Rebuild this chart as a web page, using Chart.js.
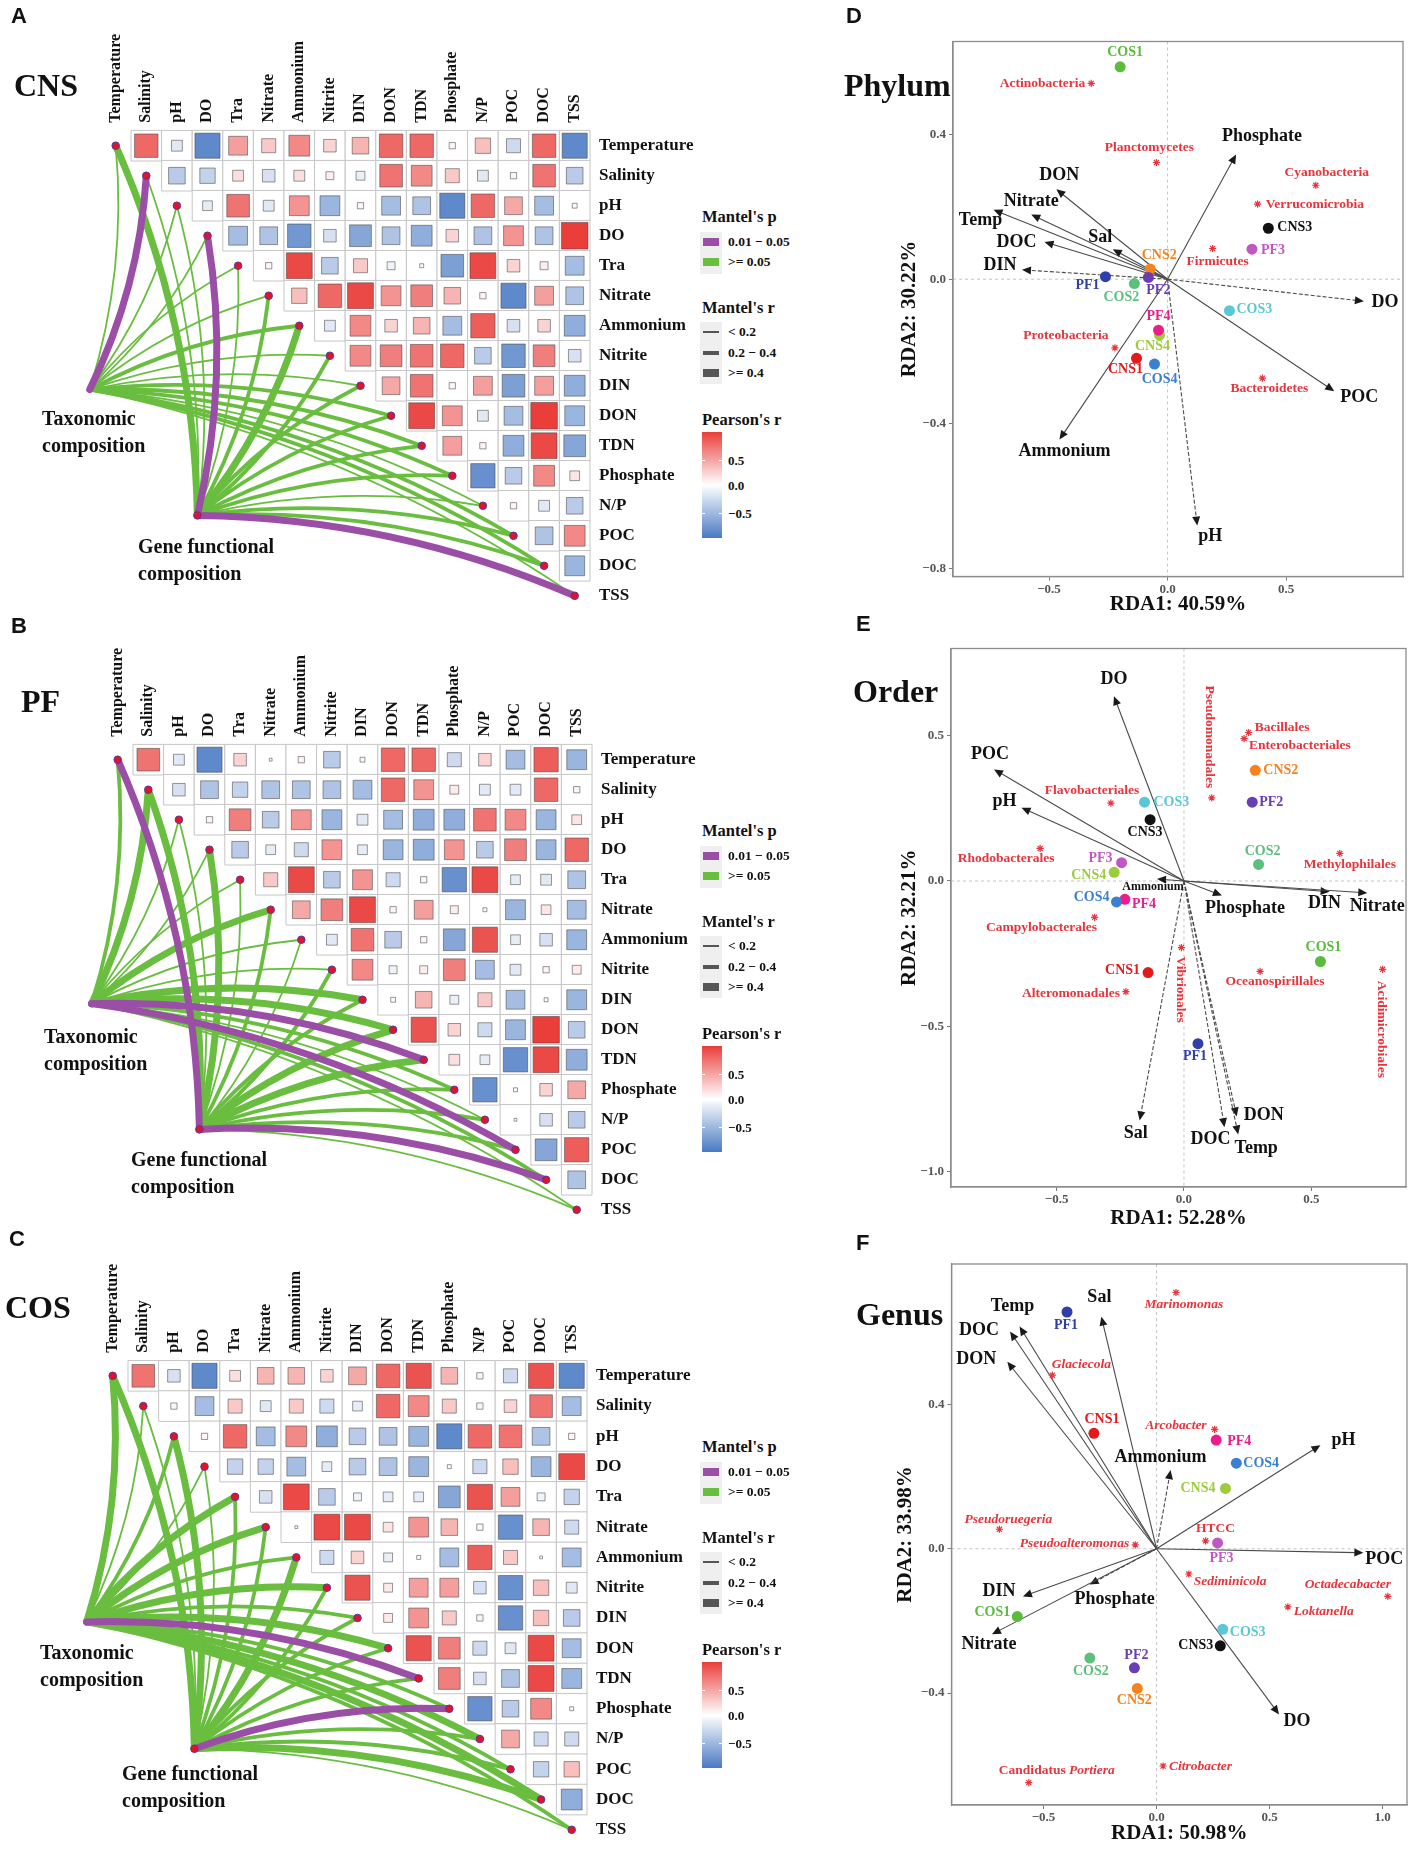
<!DOCTYPE html>
<html>
<head>
<meta charset="utf-8">
<title>Mantel tests and RDA</title>
<script src="https://cdn.jsdelivr.net/npm/chart.js@4.4.1/dist/chart.umd.min.js"></script>
<style>
  body { margin: 0; background: #fff; }
  #page { position: relative; width: 1417px; height: 1849px; overflow: hidden; background: #fff; }
  canvas { position: absolute; }
  .t { position: absolute; white-space: nowrap; font-family: "Liberation Serif", "Times New Roman", serif;
       font-weight: bold; color: #111; line-height: 1; transform: translateY(-50%); }
  .b { position: absolute; }
</style>
</head>
<body>
<div id="page">
  <canvas id="hA" width="700" height="615" style="left:0;top:0"></canvas>
  <canvas id="hB" width="700" height="615" style="left:2px;top:614px"></canvas>
  <canvas id="hC" width="700" height="619" style="left:-3px;top:1230px"></canvas>
  <canvas id="rD" width="577" height="625" style="left:840px;top:0"></canvas>
  <canvas id="rE" width="577" height="620" style="left:840px;top:620px"></canvas>
  <canvas id="rF" width="577" height="612" style="left:840px;top:1240px"></canvas>
</div>
<script>
// ---------- data: environmental variables & Pearson's r (upper triangle, row by row) ----------
const vars = ["Temperature","Salinity","pH","DO","Tra","Nitrate","Ammonium","Nitrite","DIN","DON","TDN","Phosphate","N/P","POC","DOC","TSS"];

const corrCNS = [
  [0.7,-0.15,-0.8,0.45,0.25,0.55,0.2,0.35,0.7,0.7,0.05,0.3,-0.25,0.7,-0.8],
  [-0.35,-0.3,0.15,-0.2,0.15,0.08,-0.1,0.65,0.55,0.25,-0.15,0.05,0.65,-0.35],
  [-0.12,0.65,-0.15,0.5,-0.5,0.05,-0.45,-0.4,-0.8,0.7,0.4,-0.45,0.03],
  [-0.45,-0.4,-0.7,-0.2,-0.6,-0.4,-0.55,0.2,-0.4,0.5,-0.4,0.9],
  [0.05,0.85,-0.35,0.25,-0.08,0.02,-0.65,0.85,0.2,0.08,-0.45],
  [0.3,0.7,0.85,0.5,0.6,0.35,0.05,-0.8,0.45,-0.4],
  [-0.15,0.55,0.2,0.35,-0.45,0.75,-0.2,0.2,-0.55],
  [0.55,0.6,0.65,0.7,-0.35,-0.7,0.6,-0.2],
  [0.4,0.65,0.05,0.45,-0.65,0.45,-0.55],
  [0.85,0.5,-0.15,-0.45,0.9,-0.5],
  [0.45,0.05,-0.55,0.85,-0.6],
  [-0.75,-0.35,0.55,0.12],
  [0.05,-0.15,-0.35],
  [-0.4,0.55],
  [-0.5]
];
const corrPF = [
  [0.65,-0.15,-0.8,0.2,0.01,0.05,-0.35,0.03,0.7,0.7,-0.25,0.2,-0.45,0.75,-0.5],
  [-0.2,-0.4,-0.3,-0.4,-0.4,-0.4,-0.45,0.7,0.5,0.1,-0.15,-0.15,0.7,-0.05],
  [0.05,0.6,-0.35,0.5,-0.5,-0.15,-0.45,-0.55,-0.55,0.65,0.55,-0.5,0.12],
  [-0.35,-0.12,-0.25,0.5,-0.12,-0.5,-0.55,0.5,-0.35,0.6,-0.5,0.7],
  [0.25,0.85,-0.35,0.5,-0.25,0.05,-0.75,0.85,-0.12,-0.15,-0.4],
  [0.4,0.6,0.85,0.05,0.45,0.08,0.02,-0.5,0.12,-0.45],
  [-0.15,0.65,-0.35,0.05,-0.6,0.8,-0.12,-0.2,-0.5],
  [0.55,-0.08,0.08,0.6,-0.45,-0.15,0.05,0.1],
  [0.03,0.35,-0.1,0.25,-0.45,0.02,-0.5],
  [0.8,0.2,-0.25,-0.5,0.9,-0.35],
  [0.15,-0.12,-0.75,0.85,-0.55],
  [-0.75,0.02,0.2,0.4],
  [0.01,-0.2,-0.35],
  [-0.6,0.75],
  [-0.4]
];
const corrCOS = [
  [0.65,-0.2,-0.8,0.15,0.35,0.35,0.2,0.4,0.7,0.8,0.35,0.05,-0.25,0.8,-0.8],
  [0.05,-0.45,0.25,-0.15,0.25,-0.25,-0.12,0.7,0.55,0.25,0.05,0.2,0.65,-0.45],
  [0.05,0.7,-0.45,0.55,-0.55,-0.35,-0.4,-0.5,-0.8,0.7,0.65,-0.4,0.05],
  [-0.3,-0.3,-0.45,-0.12,-0.35,-0.4,-0.5,-0.02,-0.25,0.3,-0.5,0.85],
  [-0.2,0.85,-0.35,-0.08,-0.12,-0.12,-0.6,0.8,0.45,-0.08,-0.3],
  [0.01,0.85,0.85,0.12,0.5,0.35,-0.05,-0.75,0.35,-0.25],
  [-0.25,0.2,-0.1,0.02,-0.45,0.75,0.25,0.01,-0.45],
  [0.8,0.1,0.45,0.45,-0.2,-0.75,0.3,-0.15],
  [0.1,0.5,0.25,0.05,-0.75,0.3,-0.35],
  [0.8,0.6,-0.25,-0.15,0.85,-0.45],
  [0.6,-0.2,-0.4,0.85,-0.5],
  [-0.75,-0.35,0.55,0.02],
  [0.4,-0.25,-0.25],
  [-0.3,0.3],
  [-0.55]
];

// Mantel tests: p flag (1 = 0.01-0.05, 0 = >=0.05), r class (0 <0.2, 1 0.2-0.4, 2 >=0.4)
const taxPCNS  = [0,1,0,0,0,0,0,0,0,0,0,0,0,0,0,0];
const taxRCNS  = [0,2,0,0,0,0,1,0,0,1,1,1,0,1,1,0];
const genePCNS = [0,0,0,1,0,0,0,0,0,0,0,0,0,0,0,1];
const geneRCNS = [2,0,0,2,0,1,2,1,1,1,1,1,0,1,1,2];

const taxPPF  = [0,0,0,0,0,0,0,0,0,0,1,0,0,1,0,0];
const taxRPF  = [1,2,0,0,0,2,0,0,2,2,2,1,0,2,1,0];
const genePPF = [1,0,0,0,0,0,0,0,0,0,0,0,0,0,1,0];
const geneRPF = [2,2,0,2,0,1,0,1,1,2,2,1,1,1,2,0];

const taxPCOS  = [0,0,0,0,0,0,0,0,0,0,1,0,0,0,0,0];
const taxRCOS  = [2,0,1,0,2,2,1,2,1,2,2,1,2,1,2,1];
const genePCOS = [0,0,0,0,0,0,0,0,0,0,0,1,0,0,0,0];
const geneRCOS = [2,0,2,0,1,1,2,1,1,1,1,2,1,1,2,0];

// ---------- data: RDA ----------
const sites = ["CNS1","CNS2","CNS3","CNS4","PF1","PF2","PF3","PF4","COS1","COS2","COS3","COS4"];

const phylumSiteX = [-0.131,-0.073,0.425,-0.034,-0.262,-0.081,0.356,-0.038,-0.200,-0.140,0.261,-0.055];
const phylumSiteY = [-0.219,0.028,0.141,-0.155,0.007,0.005,0.083,-0.141,0.588,-0.012,-0.087,-0.235];
const phylumTaxa  = ["Actinobacteria","Planctomycetes","Cyanobacteria","Verrucomicrobia","Firmicutes","Proteobacteria","Bacteroidetes"];
const phylumTaxaX = [-0.322,-0.047,0.625,0.380,0.190,-0.222,0.400];
const phylumTaxaY = [0.542,0.323,0.260,0.208,0.085,-0.190,-0.274];
const phylumEnv   = ["Phosphate","DON","Nitrate","Temp","DOC","Sal","DIN","DO","POC","Ammonium","pH"];
const phylumEnvX  = [0.289,-0.469,-0.575,-0.734,-0.519,-0.231,-0.614,0.828,0.703,-0.456,0.125];
const phylumEnvY  = [0.345,0.249,0.179,0.192,0.103,0.083,0.026,-0.061,-0.310,-0.444,-0.682];

const orderSiteX = [-0.141,0.280,-0.133,-0.274,0.055,0.268,-0.245,-0.232,0.536,0.293,-0.155,-0.265];
const orderSiteY = [-0.315,0.381,0.211,0.030,-0.560,0.271,0.063,-0.063,-0.277,0.057,0.271,-0.072];
const orderTaxa  = ["Pseudomonadales","Bacillales","Enterobacteriales","Flavobacteriales","Rhodobacterales","Methylophilales","Campylobacterales","Vibrionales","Oceanospirillales","Alteromonadales","Acidimicrobiales"];
const orderTaxaX = [0.109,0.254,0.236,-0.287,-0.565,0.612,-0.351,-0.010,0.299,-0.228,0.780];
const orderTaxaY = [0.286,0.511,0.490,0.268,0.112,0.095,-0.125,-0.229,-0.311,-0.381,-0.304];
const orderEnv   = ["DO","POC","pH","Ammonium","Phosphate","DIN","Nitrate","Sal","DOC","DON","Temp"];
const orderEnvX  = [-0.275,-0.746,-0.638,-0.106,0.149,0.572,0.720,-0.174,0.159,0.207,0.213];
const orderEnvY  = [0.636,0.384,0.252,0.007,-0.050,-0.037,-0.041,-0.824,-0.847,-0.810,-0.872];

const genusSiteX = [-0.277,-0.085,0.282,0.305,-0.396,-0.098,0.270,0.264,-0.616,-0.295,0.293,0.353];
const genusSiteY = [0.320,-0.387,-0.269,0.167,0.656,-0.330,0.016,0.301,-0.188,-0.303,-0.223,0.237];
const genusTaxa  = ["Marinomonas","Glaciecola","Arcobacter","Pseudoruegeria","Pseudoalteromonas","HTCC","Sediminicola","Octadecabacter","Loktanella","Candidatus Portiera","Citrobacter"];
const genusTaxaX = [0.086,-0.461,0.257,-0.695,-0.094,0.217,0.143,1.023,0.581,-0.565,0.029];
const genusTaxaY = [0.710,0.481,0.331,0.054,0.011,0.022,-0.070,-0.132,-0.161,-0.648,-0.602];
const genusEnv   = ["Temp","DOC","DON","Sal","Ammonium","pH","POC","DIN","Phosphate","Nitrate","DO"];
const genusEnvX  = [-0.606,-0.648,-0.660,-0.244,0.062,0.725,0.915,-0.591,-0.296,-0.728,0.542];
const genusEnvY  = [0.616,0.602,0.518,0.643,0.218,0.287,-0.011,-0.132,-0.099,-0.237,-0.459];

const xTicksPhylum = [-0.5,0,0.5],   yTicksPhylum = [-0.8,-0.4,0,0.4];
const xTicksOrder  = [-0.5,0,0.5],   yTicksOrder  = [-1,-0.5,0,0.5];
const xTicksGenus  = [-0.5,0,0.5,1], yTicksGenus  = [-0.4,0,0.4];

// ---------- styles ----------
const SERIF = '"Liberation Serif", "Times New Roman", serif';
const PURPLE = '#9a4ea6', GREEN = '#69bd3f', RED = '#e8343c';
const LINK_W = [1.8, 3.8, 7];
const HUBS = { tax: [-0.85, 8.13], gene: [2.67, 12.32] };
const siteColors = ['#e31a1c','#f5821f','#111111','#9ccc3c','#2f3fa8','#6a3db3','#c058c4','#ec1c8c','#5abb3c','#5cbf7c','#5bc6d8','#3b7fd1'];

function rCol(v) {
  const t = Math.min(1, Math.abs(v) / 0.9);
  const end = v >= 0 ? [233, 62, 58] : [74, 122, 196];
  const c = end.map(e => Math.round(255 + (e - 255) * t));
  return 'rgb(' + c.join(',') + ')';
}
const fmt = v => (v < 0 ? '\u2212' : '') + Math.abs(v).toFixed(1);

// ---------- correlation heatmap + Mantel links ----------
// links are painted after the cells/squares but before the node dots (dataset 0)
function linkPlugin(m) {
  return {
    id: 'links',
    beforeDatasetDraw(chart, args) {
      if (args.index !== 0) return;
      const { ctx, scales: { x, y } } = chart;
      ctx.save();
      ctx.lineCap = 'round';
      [false, true].forEach(sig => {
        [[HUBS.tax, m.taxP, m.taxR], [HUBS.gene, m.geneP, m.geneR]].forEach(([hub, P, R]) => {
          vars.forEach((_, i) => {
            if ((P[i] === 1) !== sig) return;
            const x1 = x.getPixelForValue(hub[0]), y1 = y.getPixelForValue(hub[1]);
            const x2 = x.getPixelForValue(i), y2 = y.getPixelForValue(i);
            const dx = x2 - x1, dy = y2 - y1;
            // bend every curve towards the heatmap (upper right)
            let nx = -dy, ny = dx;
            if (nx - ny < 0) { nx = -nx; ny = -ny; }
            const cx = (x1 + x2) / 2 + nx * 0.1, cy = (y1 + y2) / 2 + ny * 0.1;
            ctx.beginPath();
            ctx.moveTo(x1, y1);
            ctx.quadraticCurveTo(cx, cy, x2, y2);
            ctx.strokeStyle = sig ? PURPLE : GREEN;
            ctx.lineWidth = LINK_W[R[i]];
            ctx.stroke();
          });
        });
      });
      ctx.restore();
    }
  };
}

function heatmap(id, corr, m) {
  const cvs = document.getElementById(id);
  const cells = [], squares = [];
  corr.forEach((row, i) => row.forEach((v, k) => {
    cells.push({ x: i + 1 + k, y: i });
    squares.push({ x: i + 1 + k, y: i, v: v });
  }));
  const nodes = vars.map((_, i) => ({ x: i, y: i }))
    .concat([{ x: HUBS.tax[0], y: HUBS.tax[1] }, { x: HUBS.gene[0], y: HUBS.gene[1] }]);
  const cellPx = c => c.scales.x.getPixelForValue(1) - c.scales.x.getPixelForValue(0);
  const valOf = c => (c.raw && typeof c.raw.v === 'number') ? c.raw.v : 0;
  const tickFont = s => ({ family: SERIF, weight: 'bold', size: s });

  // first dataset is painted last (on top)
  new Chart(cvs, {
    type: 'scatter',
    data: { datasets: [
      { data: nodes, pointStyle: 'circle', clip: false, pointRadius: 3.8,
        pointBackgroundColor: '#e3122b', pointBorderColor: '#5a3a9a', pointBorderWidth: 1 },
      { data: squares, pointStyle: 'rect', clip: false,
        pointRadius: c => (cellPx(c.chart) - 4) * Math.sqrt(Math.min(1, Math.abs(valOf(c)) / 0.9)) / Math.SQRT2,
        pointBackgroundColor: c => rCol(valOf(c)), pointBorderColor: 'rgba(70,70,70,0.55)', pointBorderWidth: 1 },
      { data: cells, pointStyle: 'rect', clip: false,
        pointRadius: c => cellPx(c.chart) / Math.SQRT2,
        pointBackgroundColor: '#ffffff', pointBorderColor: '#c6c6c6', pointBorderWidth: 1 }
    ]},
    plugins: [linkPlugin(m)],
    options: {
      responsive: false, animation: false, events: [],
      layout: { padding: { left: 100.4, top: 0, right: 0, bottom: cvs.height - 605 } },
      plugins: { legend: { display: false }, tooltip: { enabled: false } },
      scales: {
        x: { type: 'linear', position: 'top', min: -0.5, max: 15.5,
             afterBuildTicks: s => { s.ticks = vars.map((_, i) => ({ value: i })); },
             afterFit: s => { s.height = 130.7; },
             ticks: { callback: v => vars[v], autoSkip: false, minRotation: 90, maxRotation: 90,
                      padding: 8, labelOffset: 19, font: tickFont(16), color: '#111' },
             grid: { display: false, drawTicks: false }, border: { display: false } },
        y: { type: 'linear', position: 'right', reverse: true, min: -0.5, max: 15,
             afterBuildTicks: s => { s.ticks = vars.map((_, i) => ({ value: i })); },
             afterFit: s => { s.width = 110; },
             ticks: { callback: v => vars[v], autoSkip: false, padding: 9, font: tickFont(17), color: '#111' },
             grid: { display: false, drawTicks: false }, border: { display: false } }
      }
    }
  });
}

heatmap('hA', corrCNS, { taxP: taxPCNS, taxR: taxRCNS, geneP: genePCNS, geneR: geneRCNS });
heatmap('hB', corrPF,  { taxP: taxPPF,  taxR: taxRPF,  geneP: genePPF,  geneR: geneRPF });
heatmap('hC', corrCOS, { taxP: taxPCOS, taxR: taxRCOS, geneP: genePCOS, geneR: geneRCOS });

// ---------- RDA biplots ----------
function drawText(ctx, s, x, y, font, color, align, rot) {
  ctx.save();
  ctx.font = font; ctx.fillStyle = color; ctx.textBaseline = 'middle';
  ctx.textAlign = align === 'l' ? 'left' : align === 'r' ? 'right' : 'center';
  ctx.translate(x, y);
  if (rot) ctx.rotate(rot * Math.PI / 180);
  ctx.fillText(s, 0, 0);
  ctx.restore();
}

function rdaPlugin(d) {
  return {
    id: 'rda',
    beforeDatasetsDraw(chart) {
      const { ctx, chartArea: a, scales: { x, y } } = chart;
      const x0 = x.getPixelForValue(0), y0 = y.getPixelForValue(0);
      ctx.save();
      ctx.strokeStyle = '#c4c4c4'; ctx.lineWidth = 1; ctx.setLineDash([3, 3]);
      ctx.beginPath();
      ctx.moveTo(x0, a.top); ctx.lineTo(x0, a.bottom);
      ctx.moveTo(a.left, y0); ctx.lineTo(a.right, y0);
      ctx.stroke();
      ctx.restore();
      d.env.forEach((name, i) => {
        const tx = x.getPixelForValue(d.envX[i]), ty = y.getPixelForValue(d.envY[i]);
        const ang = Math.atan2(ty - y0, tx - x0), hl = 9, hw = 4;
        const c = Math.cos(ang), s = Math.sin(ang);
        ctx.save();
        ctx.strokeStyle = '#4a4a4a'; ctx.fillStyle = '#1a1a1a'; ctx.lineWidth = 1.1;
        if (d.dashed.includes(name)) ctx.setLineDash([4, 2]);
        ctx.beginPath(); ctx.moveTo(x0, y0); ctx.lineTo(tx - hl * 0.7 * c, ty - hl * 0.7 * s); ctx.stroke();
        ctx.setLineDash([]);
        ctx.beginPath();
        ctx.moveTo(tx, ty);
        ctx.lineTo(tx - hl * c + hw * s, ty - hl * s - hw * c);
        ctx.lineTo(tx - hl * c - hw * s, ty - hl * s + hw * c);
        ctx.closePath(); ctx.fill();
        ctx.restore();
      });
    },
    afterDatasetsDraw(chart) {
      const { ctx, scales: { x, y } } = chart;
      d.env.forEach((name, i) => {
        const o = d.envLab[i];
        const small = d.smallEnv && d.smallEnv.includes(name);
        drawText(ctx, name, x.getPixelForValue(d.envX[i]) + o[0], y.getPixelForValue(d.envY[i]) + o[1],
          'bold ' + (small ? 12 : 18) + 'px ' + SERIF, '#111', 'c');
      });
      d.taxa.forEach((name, i) => {
        const o = d.taxaLab[i];
        const px = x.getPixelForValue(d.taxaX[i]) + o[0], py = y.getPixelForValue(d.taxaY[i]) + o[1];
        const up = 'bold 13.5px ' + SERIF, it = 'italic bold 13.5px ' + SERIF;
        if (d.italic && name.startsWith('Candidatus ')) {
          ctx.save();
          ctx.font = up; const w1 = ctx.measureText('Candidatus ').width;
          ctx.font = it; const w2 = ctx.measureText('Portiera').width;
          ctx.restore();
          const left = px - (w1 + w2) / 2;
          drawText(ctx, 'Candidatus ', left, py, up, RED, 'l');
          drawText(ctx, 'Portiera', left + w1, py, it, RED, 'l');
        } else {
          const font = d.italic && !d.upright.includes(name) ? it : up;
          drawText(ctx, name, px, py, font, RED, o[2], o[3]);
        }
      });
      sites.forEach((name, i) => {
        const o = d.siteLab[i];
        drawText(ctx, name, x.getPixelForValue(d.sx[i]) + o[0], y.getPixelForValue(d.sy[i]) + o[1],
          'bold 14px ' + SERIF, siteColors[i], o[2]);
      });
    },
    afterDraw(chart) {
      const { ctx, chartArea: a } = chart;
      ctx.save();
      ctx.strokeStyle = '#8c8c8c'; ctx.lineWidth = 1.3;
      ctx.strokeRect(a.left, a.top, a.right - a.left, a.bottom - a.top);
      ctx.restore();
    }
  };
}

function rdaAxis(min, max, ticks, title, isX, size) {
  return {
    type: 'linear', min: min, max: max,
    afterBuildTicks: s => { s.ticks = ticks.map(v => ({ value: v })); },
    afterFit: s => { if (isX) s.height = size; else s.width = size; },
    ticks: { callback: fmt, font: { family: SERIF, weight: 'bold', size: 13 }, color: '#555', padding: isX ? 1 : 3 },
    grid: { display: true, drawOnChartArea: false, drawTicks: true, tickLength: 4, color: '#777' },
    border: { display: true, color: '#8c8c8c', width: 1.3 },
    title: { display: true, text: title, color: '#111', padding: { top: 4, bottom: 4 },
             font: { family: SERIF, weight: 'bold', size: 21 } }
  };
}

function rda(id, d) {
  new Chart(document.getElementById(id), {
    type: 'scatter',
    data: { datasets: [
      { data: d.sx.map((v, i) => ({ x: v, y: d.sy[i] })), pointStyle: 'circle', pointRadius: 5.5,
        pointBackgroundColor: siteColors, pointBorderWidth: 0, clip: false },
      { data: d.taxaX.map((v, i) => ({ x: v, y: d.taxaY[i] })), pointStyle: 'star', pointRadius: 3.6,
        pointBorderColor: RED, pointBorderWidth: 1.2, clip: false }
    ]},
    plugins: [rdaPlugin(d)],
    options: {
      responsive: false, animation: false, events: [],
      layout: { padding: d.pad },
      plugins: { legend: { display: false }, tooltip: { enabled: false } },
      scales: {
        x: rdaAxis(d.xr[0], d.xr[1], d.xt, d.xTitle, true, d.xh),
        y: rdaAxis(d.yr[0], d.yr[1], d.yt, d.yTitle, false, d.yw)
      }
    }
  });
}

rda('rD', {
  sx: phylumSiteX, sy: phylumSiteY, taxa: phylumTaxa, taxaX: phylumTaxaX, taxaY: phylumTaxaY,
  env: phylumEnv, envX: phylumEnvX, envY: phylumEnvY,
  xr: [-0.905, 0.993], yr: [-0.823, 0.658], xt: xTicksPhylum, yt: yTicksPhylum,
  xTitle: 'RDA1: 40.59%', yTitle: 'RDA2: 30.22%',
  pad: { left: 53.4, top: 41.5, right: 14, bottom: 3.4 }, yw: 59.6, xh: 45.1,
  dashed: ['DIN', 'DO', 'pH'],
  siteLab: [[-11,11,'c'],[9,-14,'c'],[9,-1,'l'],[-7,11,'c'],[-18,9,'c'],[10,13,'c'],[9,1,'l'],[0,-14,'c'],[5,-14,'c'],[-13,14,'c'],[7,-1,'l'],[5,15,'c']],
  taxaLab: [[-6,0,'r'],[-7,-15,'c'],[11,-13,'c'],[8,0,'l'],[5,13,'c'],[-49,-12,'c'],[7,10,'c']],
  envLab: [[26,-18],[3,-14],[0,-13],[-13,11],[-28,0],[-12.5,-12],[-22,-4],[21,1],[25,6],[5,12],[13,11]]
});

rda('rE', {
  sx: orderSiteX, sy: orderSiteY, taxa: orderTaxa, taxaX: orderTaxaX, taxaY: orderTaxaY,
  env: orderEnv, envX: orderEnvX, envY: orderEnvY,
  xr: [-0.915, 0.872], yr: [-1.053, 0.80], xt: xTicksOrder, yt: yTicksOrder,
  xTitle: 'RDA1: 52.28%', yTitle: 'RDA2: 32.21%',
  pad: { left: 53.4, top: 28.5, right: 11, bottom: 4.4 }, yw: 57.6, xh: 48.6,
  dashed: ['Sal', 'DOC', 'DON', 'Temp'], smallEnv: ['Ammonium'],
  siteLab: [[-8,-2,'r'],[8,0,'l'],[-5,13,'c'],[-8,3,'r'],[-3,13,'c'],[7,0,'l'],[-9,-4,'r'],[7,5,'l'],[3,-14,'c'],[4,-13,'c'],[9,0,'l'],[-7,-5,'r']],
  taxaLab: [[-2,-61,'c',90],[6,-5,'l'],[5,7,'l'],[-19,-13,'c'],[-34,10,'c'],[10,11,'c'],[-53,10,'c'],[-1,42,'c',90],[15,10,'c'],[-6,2,'r'],[-1,60,'c',90]],
  envLab: [[0,-17],[-4,-15],[-17,-6],[-4,8],[23,13],[-5,12],[10,13],[-4,13],[-14,12],[27,-1],[18,14]]
});

rda('rF', {
  sx: genusSiteX, sy: genusSiteY, taxa: genusTaxa, taxaX: genusTaxaX, taxaY: genusTaxaY,
  env: genusEnv, envX: genusEnvX, envY: genusEnvY,
  xr: [-0.907, 1.108], yr: [-0.71, 0.789], xt: xTicksGenus, yt: yTicksGenus,
  xTitle: 'RDA1: 50.98%', yTitle: 'RDA2: 33.98%',
  pad: { left: 49.4, top: 24, right: 10, bottom: 1.4 }, yw: 62.1, xh: 45.6,
  dashed: ['Ammonium', 'Phosphate'], italic: true, upright: ['HTCC'],
  siteLab: [[8,-14,'c'],[-3,12,'c'],[-7,0,'r'],[-10,0,'r'],[-1,13,'c'],[2,-12,'c'],[4,15,'c'],[11,1,'l'],[-7,-4,'r'],[1,13,'c'],[7,3,'l'],[7,0,'l']],
  taxaLab: [[8,12,'c'],[29,-11,'c'],[-8,-4,'r'],[9,-10,'c'],[-6,-1,'r'],[10,-12,'c'],[5,7,'l'],[-40,-12,'c'],[6,5,'l'],[28,-12,'c'],[6,0,'l']],
  envLab: [[-7,-20],[-31,-1],[-31,-2],[-2,-19],[-10,-13],[23,-5],[21,7],[-24,-5],[25,15],[-3,10],[18,7]]
});

// ---------- HTML titles and legends ----------
const page = document.getElementById('page');
function put(text, left, cy, size, extra) {
  const el = document.createElement('div');
  el.className = 't';
  el.textContent = text;
  el.style.left = left + 'px'; el.style.top = cy + 'px'; el.style.fontSize = size + 'px';
  if (extra) Object.assign(el.style, extra);
  page.appendChild(el);
}
function box(left, top, w, h, bg) {
  const el = document.createElement('div');
  el.className = 'b';
  Object.assign(el.style, { left: left + 'px', top: top + 'px', width: w + 'px', height: h + 'px', background: bg });
  page.appendChild(el);
}
const SANS = { fontFamily: '"Liberation Sans", Arial, sans-serif' };
[['A',11,16],['B',11,626],['C',9,1239],['D',846,16],['E',856,624],['F',856,1243]]
  .forEach(([t, l, c]) => put(t, l, c, 22, SANS));
[['CNS',14,85],['PF',21,701],['COS',5,1307],['Phylum',844,85],['Order',853,691],['Genus',856,1314]]
  .forEach(([t, l, c]) => put(t, l, c, 32));

[[42,418,138,546],[44,1036,131,1159],[40,1652,122,1773]].forEach(([tl, ty, gl, gy]) => {
  put('Taxonomic', tl, ty, 20); put('composition', tl, ty + 27, 20);
  put('Gene functional', gl, gy, 20); put('composition', gl, gy + 27, 20);
});

[0, 614, 1230].forEach(oy => {
  put("Mantel's p", 702, 217 + oy, 16.5);
  box(700, 232 + oy, 22, 42, '#efefef');
  box(703, 238 + oy, 16, 8, PURPLE); put('0.01 \u2212 0.05', 728, 242 + oy, 13.5);
  box(703, 258 + oy, 16, 8, GREEN);  put('>= 0.05', 728, 262 + oy, 13.5);
  put("Mantel's r", 702, 308 + oy, 16.5);
  box(700, 322 + oy, 22, 62, '#efefef');
  box(703, 331 + oy, 16, 2, '#555');  put('< 0.2', 728, 332 + oy, 13.5);
  box(703, 351 + oy, 16, 4, '#555');  put('0.2 \u2212 0.4', 728, 353 + oy, 13.5);
  box(703, 369 + oy, 16, 8, '#555');  put('>= 0.4', 728, 373 + oy, 13.5);
  put("Pearson's r", 702, 420 + oy, 16.5);
  box(702, 432 + oy, 20, 106, 'linear-gradient(to bottom, rgb(233,62,58), #ffffff 50%, rgb(74,122,196))');
  [460, 485, 513].forEach(t => { box(702, t + oy, 3, 1, '#fff'); box(719, t + oy, 3, 1, '#fff'); });
  put('0.5', 728, 460 + oy, 13); put('0.0', 728, 485 + oy, 13); put('\u22120.5', 728, 513 + oy, 13);
});
</script>
</body>
</html>
